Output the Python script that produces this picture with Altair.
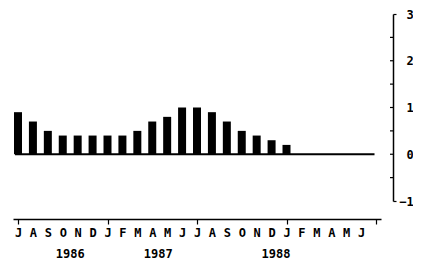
import altair as alt
import pandas as pd

# ---- data ----
month_letters = ["J", "A", "S", "O", "N", "D", "J", "F", "M", "A", "M", "J",
                 "J", "A", "S", "O", "N", "D", "J", "F", "M", "A", "M", "J"]
bar_month_index = list(range(19))          # Jul 1986 .. Jan 1988
bar_values = [0.9, 0.7, 0.5, 0.4, 0.4, 0.4, 0.4, 0.4, 0.5, 0.7, 0.8, 1.0,
              1.0, 0.9, 0.7, 0.5, 0.4, 0.3, 0.2]
year_labels = ["1986", "1987", "1988"]
year_positions = [3.5, 9.4, 17.3]          # in month-index units
y_tick_values = [-1, -0.5, 0, 0.5, 1, 1.5, 2, 2.5, 3]
y_inner_ticks = [-0.5, 0, 0.5, 1, 1.5, 2, 2.5]
baseline_start = [-0.2]
baseline_end = [23.9]

W, H = 368, 187
FONT = "DejaVu Sans Mono"

xscale = alt.Scale(domain=[0, 24], nice=False, zero=False)
yscale = alt.Scale(domain=[-1, 3], nice=False, zero=False)

letters_js = "[" + ",".join("'%s'" % m for m in month_letters) + "]"

xaxis = alt.Axis(
    values=list(range(25)),
    labelExpr="datum.value < 24 ? %s[datum.value] : ''" % letters_js,
    tickOpacity=alt.expr("datum.value % 6 == 0 ? 1 : 0"),
    tickSize=5, tickColor="black", tickWidth=1.2,
    domainColor="black", domainWidth=1.5,
    offset=18, title=None, grid=False, labelAngle=0,
    labelFont=FONT, labelFontWeight="bold", labelFontSize=12, labelColor="black",
    labelPadding=3, labelFlush=False, labelOverlap=False, labelBound=False,
)

yaxis = alt.Axis(
    orient="right", values=y_tick_values,
    labelExpr="datum.value % 1 == 0 ? format(datum.value, 'd') : ''",
    labelAlign=alt.expr("datum.value < 0 ? 'center' : 'left'"),
    tickOpacity=alt.expr("(datum.value == 3 || datum.value == -1) ? 1 : 0"),
    tickSize=3, tickColor="black", tickWidth=1.2,
    domainColor="black", domainWidth=1.5,
    offset=12, title=None, grid=False,
    labelFont=FONT, labelFontWeight="bold", labelFontSize=12, labelColor="black",
    labelPadding=10, labelFlush=False, labelOverlap=False, labelBound=False,
)

bars_df = pd.DataFrame({"m": bar_month_index, "v": bar_values})
bars = alt.Chart(bars_df).mark_bar(color="black", size=8).encode(
    x=alt.X("m:Q", scale=xscale, axis=xaxis),
    y=alt.Y("v:Q", scale=yscale, axis=yaxis),
    y2=alt.datum(0),
)

base_df = pd.DataFrame({"a": baseline_start, "b": baseline_end, "y": [0]})
baseline = alt.Chart(base_df).mark_rule(color="black", strokeWidth=2).encode(
    x=alt.X("a:Q", scale=xscale, axis=xaxis),
    x2="b:Q",
    y=alt.Y("y:Q", scale=yscale, axis=yaxis),
)

ticks_df = pd.DataFrame({"t": y_inner_ticks})
inner_ticks = alt.Chart(ticks_df).mark_rule(color="black", strokeWidth=1.2).encode(
    y=alt.Y("t:Q", scale=yscale, axis=yaxis),
    x=alt.value(W + 12 - 3),
    x2=alt.value(W + 12),
)

years_df = pd.DataFrame({"pos": year_positions, "label": year_labels})
years = alt.Chart(years_df).mark_text(
    font=FONT, fontWeight="bold", fontSize=12, color="black", baseline="middle"
).encode(
    x=alt.X("pos:Q", scale=xscale, axis=xaxis),
    y=alt.value(H + 53),
    text="label:N",
)

chart = alt.layer(bars, baseline, inner_ticks, years).properties(
    width=W, height=H,
    autosize=alt.AutoSizeParams(type="none"),
    padding={"left": 5, "top": 6, "right": 32, "bottom": 62},
    background="white",
).configure_view(stroke=None)

chart.save("out.html", embed_options={"renderer": "svg", "actions": False})
